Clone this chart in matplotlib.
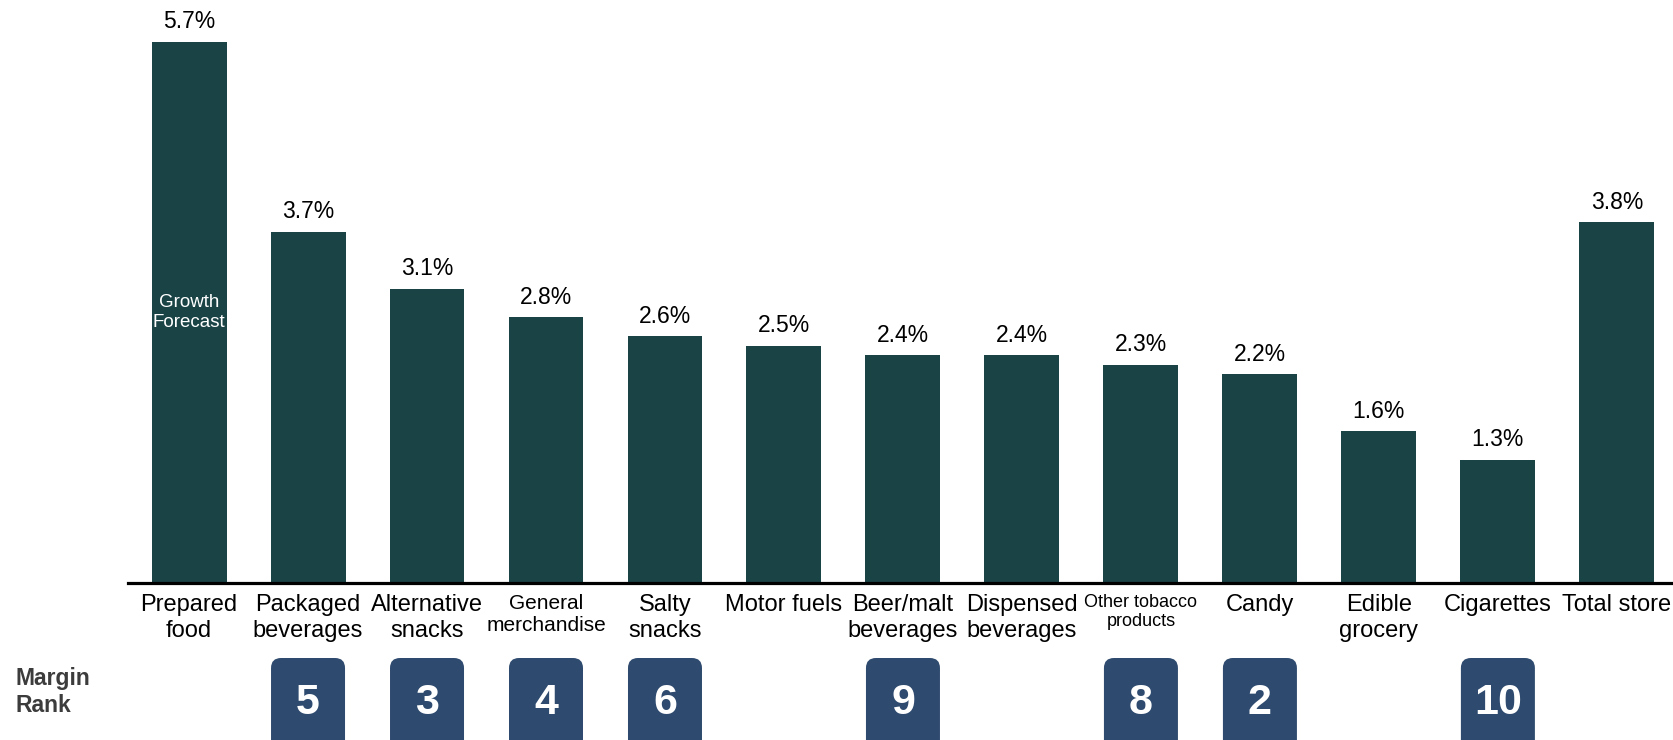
import numpy as np
import matplotlib.pyplot as plt
from matplotlib.patches import FancyBboxPatch

plt.rcParams['font.family'] = ['Liberation Sans', 'DejaVu Sans']

categories = ["Prepared\nfood", "Packaged\nbeverages", "Alternative\nsnacks", "General\nmerchandise",
              "Salty\nsnacks", "Motor fuels", "Beer/malt\nbeverages", "Dispensed\nbeverages",
              "Other tobacco\nproducts", "Candy", "Edible\ngrocery", "Cigarettes", "Total store"]
growth = [5.7, 3.7, 3.1, 2.8, 2.6, 2.5, 2.4, 2.4, 2.3, 2.2, 1.6, 1.3, 3.8]
marginRank = [None, 5, 3, 4, 6, None, 9, None, 8, 2, None, 10, None]

barColor = "#1a4346"
rankColor = "#2e4a6e"

W, H = 1674, 740
fig = plt.figure(figsize=(W / 100, H / 100), dpi=100)
ax = fig.add_axes([128 / W, 157 / H, (W - 128) / W, 583 / H])

x = np.arange(len(categories))
bars = ax.bar(x, growth, width=0.63, color=barColor)
ax.bar_label(bars, labels=["{:.1f}%".format(v) for v in growth], padding=6, fontsize=16.5)

ax.set_xlim(-0.513, 12.48)
ax.set_ylim(0, 6.14)

# pixels per data unit, used to keep the rank boxes square-cornered in screen space
pxX = (W - 128) / (12.48 + 0.513)
pxY = 583 / 6.14

ax.set_xticks(x, categories, fontsize=17)
for lbl in ax.get_xticklabels():
    if lbl.get_text().startswith("General"):
        lbl.set_fontsize(15)
    elif lbl.get_text().startswith("Other tobacco"):
        lbl.set_fontsize(13)
        lbl.set_linespacing(1.15)
ax.tick_params(axis="x", length=0, pad=8)
ax.set_yticks([])
for side in ("top", "left", "right"):
    ax.spines[side].set_visible(False)
ax.spines["bottom"].set_linewidth(2.3)
ax.spines["bottom"].set_color("black")

ax.text(0, growth[0] / 2, "Growth\nForecast", color="white", fontsize=13.5,
        ha="center", va="center", linespacing=1.25)

# margin rank badges under the category labels
boxW = 74 / pxX
boxTop = -(658 - 583) / pxY
boxBottom = -(760 - 583) / pxY
rounding = 10 / pxX
for i, rank in enumerate(marginRank):
    if rank is None:
        continue
    box = FancyBboxPatch((i - boxW / 2, boxBottom), boxW, boxTop - boxBottom,
                         boxstyle="round,pad=0,rounding_size={}".format(rounding),
                         mutation_aspect=pxX / pxY, facecolor=rankColor, edgecolor="none",
                         clip_on=False)
    ax.add_patch(box)
    ax.text(i, -(714 - 583) / pxY, str(rank), color="white", fontsize=31, fontweight="bold",
            ha="center", va="baseline", clip_on=False)

fig.text(16 / W, 1 - 692 / H, "Margin\nRank", fontsize=16.5, fontweight="bold", color="#3c3c3c",
         ha="left", va="center")

fig.savefig("out.png", dpi=100)
